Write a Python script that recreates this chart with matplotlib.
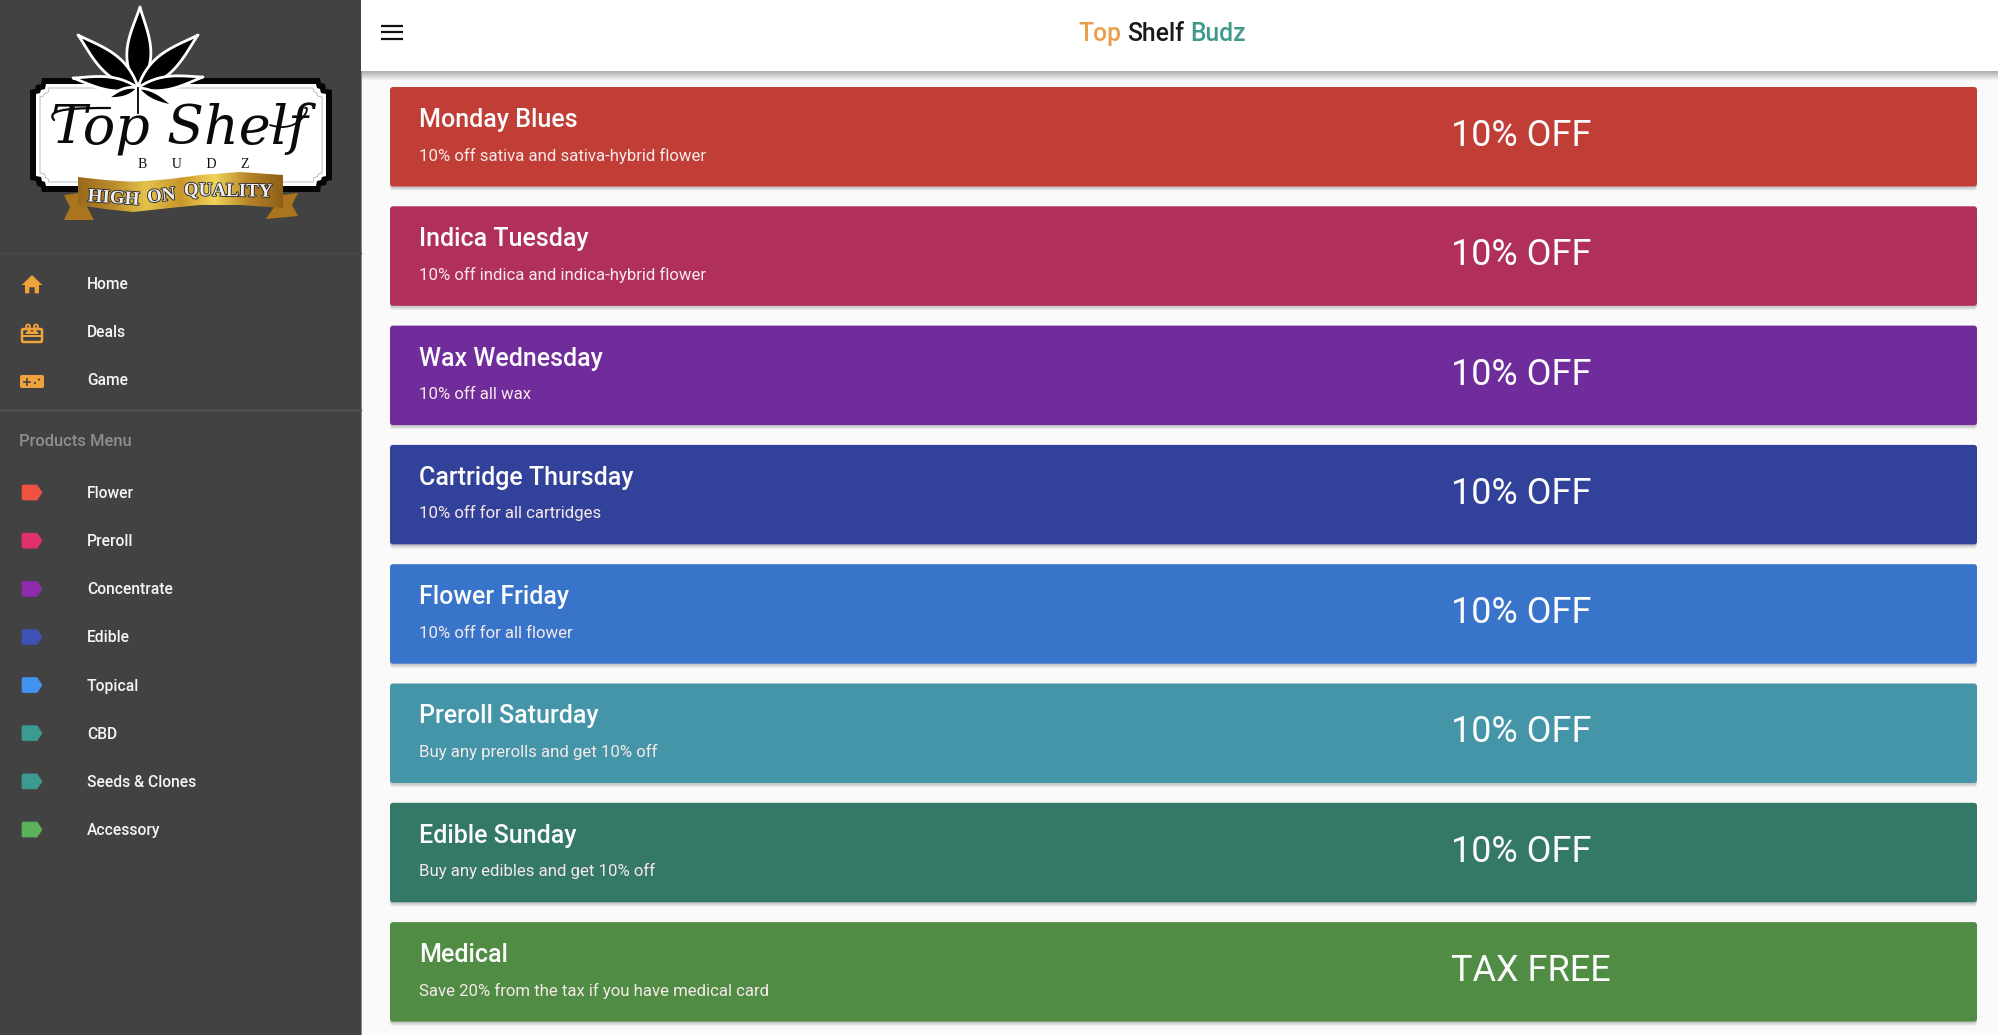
import matplotlib
matplotlib.use("Agg")
import matplotlib.pyplot as plt
import matplotlib.patheffects as pe
from matplotlib.patches import FancyBboxPatch, PathPatch, Polygon, Rectangle, Circle
from matplotlib.path import Path
import numpy as np

W, H = 1999, 1035

# deal cards
CARD_TITLES = ["Monday Blues", "Indica Tuesday", "Wax Wednesday", "Cartridge Thursday",
               "Flower Friday", "Preroll Saturday", "Edible Sunday", "Medical"]
CARD_SUBS = ["10% off sativa and sativa-hybrid flower", "10% off indica and indica-hybrid flower",
             "10% off all wax", "10% off for all cartridges", "10% off for all flower",
             "Buy any prerolls and get 10% off", "Buy any edibles and get 10% off",
             "Save 20% from the tax if you have medical card"]
CARD_DEALS = ["10% OFF"] * 7 + ["TAX FREE"]
CARD_COLORS = ["#C13E36", "#B02F5C", "#702C9B", "#32419A", "#3974CB", "#4495A8", "#347868", "#518C45"]

# sidebar
TOP_MENU = ["Home", "Deals", "Game"]
PRODUCT_MENU = ["Flower", "Preroll", "Concentrate", "Edible", "Topical", "CBD", "Seeds & Clones", "Accessory"]
TAG_COLORS = ["#EE5240", "#E0316A", "#8E2CAC", "#3F51B5", "#4292F0", "#3C9A8E", "#3C9A8E", "#5CB25A"]

SIDEBAR = "#424242"
ORANGE = "#F0A23C"
TEAL = "#3F9A8C"

plt.rcParams["font.family"] = ["Roboto", "DejaVu Sans"]


def px(size):
    return size * 72 / 100


fig = plt.figure(figsize=(W / 100, H / 100), dpi=100, facecolor="#FAFAFA")
ax = fig.add_axes([0, 0, 1, 1])
ax.set_xlim(0, W)
ax.set_ylim(H, 0)
ax.axis("off")


def leaflet(bx, by, tx, ty, width, z=5):
    t = np.linspace(0, 1, 40)
    prof = width / 2 * np.sin(np.pi * t ** 0.8) ** 1.1
    dx, dy = tx - bx, ty - by
    n = np.hypot(dx, dy)
    nx, ny = -dy / n, dx / n
    xs = bx + dx * t
    ys = by + dy * t
    pts = np.r_[np.c_[xs + nx * prof, ys + ny * prof], np.c_[xs - nx * prof, ys - ny * prof][::-1]]
    ax.add_patch(Polygon(pts, closed=True, fc="black", ec="white", lw=2, zorder=z, joinstyle="round"))


def plaque(x0, y0, x1, y1, cut, **kw):
    # one notched corner, mirrored round the four corners
    notch = [(cut, 0), (cut - 1, cut * 0.5 - 1), (cut * 0.5 + 1, cut * 0.5), (cut * 0.5, cut - 1), (0, cut)]
    pts = [(x1 - a, y0 + b) for a, b in notch]
    pts += [(x1 - b, y1 - a) for a, b in notch]
    pts += [(x0 + a, y1 - b) for a, b in notch]
    pts += [(x0 + b, y0 + a) for a, b in notch]
    ax.add_patch(Polygon(pts, closed=True, **kw))


def swash(verts, lw=1.6):
    codes = [Path.MOVETO] + [Path.CURVE4] * (len(verts) - 1)
    ax.add_patch(PathPatch(Path(verts, codes), fc="none", ec="#0A0A0A", lw=lw, capstyle="round", zorder=6))


def draw_logo():
    plaque(30, 78, 332, 192, 12, fc="#050505", ec="none", zorder=3)
    plaque(36, 84, 326, 186, 10, fc="white", ec="none", zorder=3)
    plaque(40, 88, 322, 182, 9, fc="white", ec="#BBBBBB", lw=0.7, zorder=3)

    cx, cy = 138, 88
    ax.plot([cx, cx], [cy, 113], color="black", lw=1.3, zorder=6)
    for tx, ty, w in [(140, 7, 24), (78, 35, 20), (198, 35, 20), (73, 78, 13), (203, 77, 13), (106, 99, 8), (175, 107, 8)]:
        leaflet(cx, cy, tx, ty, w)

    ax.text(180, 145, "Top Shelf", family="DejaVu Serif", style="italic", fontsize=px(54),
            ha="center", va="baseline", color="#0A0A0A", zorder=6)
    swash([(54, 120), (44, 108), (80, 108), (110, 108)])
    swash([(270, 125), (300, 135), (312, 105), (305, 108)], lw=1.3)
    ax.text(194, 168, "B       U       D       Z", family="Liberation Serif", fontsize=px(14),
            ha="center", va="baseline", color="#111111", zorder=6)

    # ribbon tails
    for pts in ([(64, 195), (80, 193), (94, 220), (64, 220), (70, 207)],
                [(298, 193), (282, 195), (266, 219), (298, 216), (292, 205)]):
        ax.add_patch(Polygon(pts, closed=True, fc="#A9751F", ec="none", zorder=6))
    # ribbon band with a gold gradient
    top = [(78, 177), (105, 180), (133, 182), (170, 179), (200, 175), (240, 172), (283, 175)]
    bot = [(283, 208), (240, 205), (200, 205), (170, 208), (133, 212), (105, 209), (78, 205)]
    band = Polygon(top + bot, closed=True, fc="none", ec="none", zorder=7)
    ax.add_patch(band)
    stops = ["#9A6A1C", "#B98A2A", "#E3C24A", "#C9962B", "#F0D45A", "#B5842A", "#8E5F18"]
    grad = matplotlib.colors.LinearSegmentedColormap.from_list("gold", stops)
    im = ax.imshow(np.linspace(0, 1, 256)[None, :], cmap=grad, extent=(78, 283, 215, 170),
                   aspect="auto", zorder=7)
    im.set_clip_path(band)
    ax.set_xlim(0, W)
    ax.set_ylim(H, 0)

    effect = [pe.withStroke(linewidth=1.3, foreground="#2A2A2A")]
    for word, x, y, rot in [("HIGH", 113, 203, -4), ("ON", 162, 201, 7), ("QUALITY", 228, 196, -1)]:
        ax.text(x, y, word, family="Liberation Serif", weight="bold", fontsize=px(19), rotation=rot,
                rotation_mode="anchor", ha="center", va="baseline", color="#EFEFEF",
                path_effects=effect, zorder=8)


def draw_icons():
    # home
    home = np.array([(96, 825), (65, 855), (75, 855), (75, 880), (88, 880), (88, 862),
                     (104, 862), (104, 880), (117, 880), (117, 855), (127, 855)]) / 3
    ax.add_patch(Polygon(home, closed=True, fc=ORANGE, ec="none", zorder=4))
    # deals box
    ax.add_patch(FancyBboxPatch((22, 329), 20, 13, boxstyle="round,pad=0,rounding_size=1.5",
                                fc="none", ec=ORANGE, lw=1.8, zorder=4))
    ax.add_patch(Rectangle((23, 335), 18, 1.8, fc=ORANGE, ec="none", zorder=4))
    ax.add_patch(Polygon([(25, 334), (29, 329), (32, 332), (35, 329), (39, 334)], closed=True,
                         fc=ORANGE, ec="none", zorder=4))
    ax.add_patch(Circle((28, 326.5), 2, fc="none", ec=ORANGE, lw=1.3, zorder=4))
    ax.add_patch(Circle((36, 326.5), 2, fc="none", ec=ORANGE, lw=1.3, zorder=4))
    # game pad
    ax.add_patch(FancyBboxPatch((20, 375), 24, 13, boxstyle="round,pad=0,rounding_size=2",
                                fc=ORANGE, ec="none", zorder=4))
    ax.plot([24, 30], [381.5, 381.5], color=SIDEBAR, lw=1.2, zorder=5)
    ax.plot([27, 27], [378.5, 384.5], color=SIDEBAR, lw=1.2, zorder=5)
    ax.add_patch(Circle((35, 383), 1.1, fc=SIDEBAR, ec="none", zorder=5))
    ax.add_patch(Circle((39, 379.5), 1.1, fc=SIDEBAR, ec="none", zorder=5))


def draw_sidebar():
    ax.add_patch(Rectangle((0, 0), 361, H, fc=SIDEBAR, ec="none", zorder=2))
    ax.add_patch(Rectangle((361, 71), 1.5, H - 71, fc="#8A8A8A", ec="none", zorder=2))
    for y, col in [(253, "#4B4B4B"), (409.5, "#5A5A5A")]:
        ax.plot([0, 361], [y, y], color=col, lw=1, zorder=3)
    draw_logo()
    draw_icons()
    for i, name in enumerate(TOP_MENU):
        ax.text(87, 289 + i * 48.2, name, fontsize=px(15.6), weight=500, color="#F5F5F5",
                ha="left", va="baseline", zorder=4)
    ax.text(19, 446, "Products Menu", fontsize=px(16.5), weight=500, color="#8F8F8F",
            ha="left", va="baseline", zorder=4)
    for i, (name, col) in enumerate(zip(PRODUCT_MENU, TAG_COLORS)):
        y = 492.5 + i * 48.15
        ax.text(87, y + 5.5, name, fontsize=px(15.6), weight=500, color="#F5F5F5",
                ha="left", va="baseline", zorder=4)
        outline = [(23, y - 7.5), (37, y - 7.5), (42, y), (37, y + 7.5), (23, y + 7.5), (22, y + 6.5), (22, y - 6.5)]
        ax.add_patch(Polygon(outline, closed=True, fc=col, ec=col, lw=0.5, joinstyle="round", zorder=4))


def draw_header():
    for k in range(9):
        ax.add_patch(Rectangle((361, 71), W - 361, 9 - k, fc="black", alpha=0.035, ec="none", zorder=2))
    ax.add_patch(Rectangle((361, 0), W - 361, 71, fc="white", ec="none", zorder=3))
    for y in [25.7, 32.3, 39]:
        ax.plot([381.5, 403], [y, y], color="#111111", lw=1.6, solid_capstyle="butt", zorder=4)
    x = 1079
    renderer = fig.canvas.get_renderer()
    for word, col in [("Top", "#E89F4C"), ("Shelf", "#1A1A1A"), ("Budz", TEAL)]:
        t = ax.text(x, 41, word, fontsize=px(24.8), weight=500, color=col, ha="left", va="baseline", zorder=4)
        x = t.get_window_extent(renderer).x1 + 5.5


def draw_cards():
    for i, (title, sub, deal, col) in enumerate(zip(CARD_TITLES, CARD_SUBS, CARD_DEALS, CARD_COLORS)):
        y0 = 87 + i * 119.3
        for k in range(4):
            ax.add_patch(FancyBboxPatch((390, y0 + 1), 1587, 100 + k * 0.9,
                                        boxstyle="round,pad=0,rounding_size=3",
                                        fc="black", ec="none", alpha=0.05, zorder=1))
        ax.add_patch(FancyBboxPatch((390, y0), 1587, 99.5, boxstyle="round,pad=0,rounding_size=3",
                                    fc=col, ec="none", zorder=2))
        ax.text(419, y0 + 40, title, fontsize=px(25), weight=500, color="#FCFCFC",
                ha="left", va="baseline", zorder=3)
        ax.text(419, y0 + 73.5, sub, fontsize=px(16.8), color="#F6E9E9", ha="left", va="baseline", zorder=3)
        ax.text(1451, y0 + 59, deal, fontsize=px(36), color="#FCFCFC", ha="left", va="baseline", zorder=3)


draw_cards()
draw_header()
draw_sidebar()

fig.savefig("out.png", dpi=100, facecolor=fig.get_facecolor())
plt.close(fig)
